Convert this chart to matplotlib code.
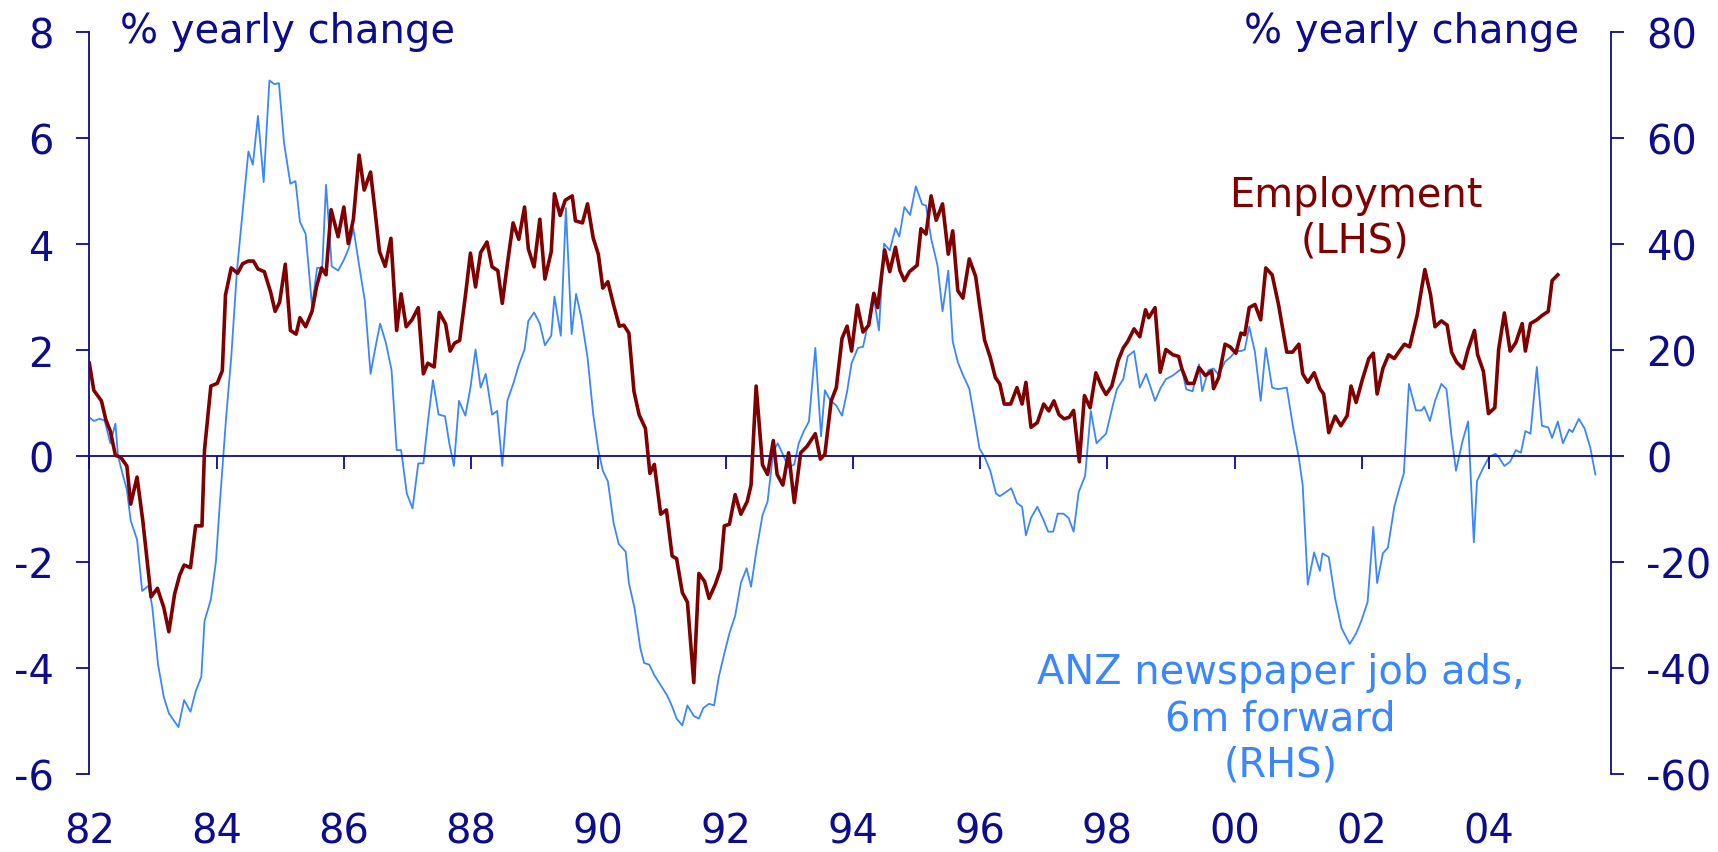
import numpy as np
import matplotlib
matplotlib.use("Agg")
import matplotlib.pyplot as plt

# Colours used in the chart
NAVY = "#0c0c8c"
EMP_COLOR = "#800000"
ADS_COLOR = "#3a86ff"

# Employment, % yearly change (LHS) - years given as yy (+1900)
emp_years = [
    82.00, 82.07, 82.19, 82.26, 82.33, 82.41, 82.49, 82.59, 82.65, 82.75, 82.84, 82.97,
    83.07, 83.17, 83.25, 83.34, 83.42, 83.49, 83.59, 83.67, 83.77, 83.81, 83.91, 84.01,
    84.09, 84.14, 84.23, 84.33, 84.41, 84.50, 84.58, 84.65, 84.75, 84.85, 84.92, 84.99,
    85.08, 85.16, 85.25, 85.31, 85.40, 85.50, 85.57, 85.65, 85.72, 85.80, 85.91, 86.00,
    86.07, 86.15, 86.24, 86.32, 86.42, 86.49, 86.56, 86.65, 86.74, 86.83, 86.90, 86.98,
    87.07, 87.17, 87.25, 87.32, 87.42, 87.50, 87.60, 87.67, 87.74, 87.82, 87.91, 87.99,
    88.07, 88.15, 88.25, 88.33, 88.42, 88.49, 88.57, 88.66, 88.75, 88.84, 88.90, 88.99,
    89.08, 89.16, 89.26, 89.31, 89.40, 89.48, 89.59, 89.64, 89.75, 89.83, 89.92, 90.00,
    90.07, 90.15, 90.24, 90.33, 90.40, 90.48, 90.56, 90.64, 90.74, 90.81, 90.88, 90.98,
    91.07, 91.16, 91.23, 91.32, 91.40, 91.50, 91.58, 91.67, 91.74, 91.84, 91.92, 91.98,
    92.06, 92.15, 92.24, 92.34, 92.40, 92.48, 92.58, 92.66, 92.75, 92.81, 92.90, 92.99,
    93.08, 93.18, 93.28, 93.41, 93.49, 93.56, 93.66, 93.74, 93.83, 93.91, 93.98, 94.07,
    94.16, 94.25, 94.33, 94.39, 94.50, 94.58, 94.67, 94.74, 94.81, 94.89, 95.01, 95.07,
    95.15, 95.23, 95.31, 95.41, 95.50, 95.57, 95.65, 95.73, 95.83, 95.93, 96.00, 96.07,
    96.16, 96.24, 96.31, 96.38, 96.48, 96.58, 96.66, 96.72, 96.80, 96.90, 97.00, 97.08,
    97.16, 97.24, 97.32, 97.40, 97.47, 97.56, 97.64, 97.73, 97.82, 97.91, 97.98, 98.07,
    98.17, 98.25, 98.32, 98.42, 98.51, 98.60, 98.65, 98.75, 98.83, 98.92, 99.03, 99.12,
    99.17, 99.26, 99.36, 99.44, 99.54, 99.64, 99.67, 99.75, 99.85, 99.93, 100.02, 100.10,
    100.16, 100.23, 100.32, 100.41, 100.49, 100.59, 100.69, 100.82, 100.91, 101.01, 101.07, 101.15,
    101.25, 101.34, 101.40, 101.48, 101.58, 101.67, 101.77, 101.83, 101.91, 102.01, 102.11, 102.18,
    102.24, 102.33, 102.42, 102.51, 102.59, 102.67, 102.75, 102.87, 102.99, 103.08, 103.15, 103.25,
    103.34, 103.41, 103.49, 103.59, 103.67, 103.77, 103.82, 103.91, 103.99, 104.09, 104.15, 104.24,
    104.33, 104.42, 104.52, 104.57, 104.65, 104.75, 104.83, 104.93, 104.99, 105.08,
]
emp_values = [
    1.75, 1.24, 1.04, 0.68, 0.47, 0.01, -0.02, -0.19, -0.91, -0.40, -1.22, -2.66,
    -2.50, -2.86, -3.32, -2.61, -2.25, -2.06, -2.11, -1.32, -1.32, 0.11, 1.32, 1.37,
    1.61, 3.04, 3.55, 3.45, 3.63, 3.68, 3.68, 3.53, 3.48, 3.09, 2.73, 2.90,
    3.62, 2.37, 2.30, 2.61, 2.44, 2.73, 3.19, 3.55, 3.42, 4.65, 4.14, 4.70,
    4.01, 4.47, 5.68, 5.02, 5.36, 4.63, 3.86, 3.58, 4.11, 2.37, 3.06, 2.44,
    2.57, 2.80, 1.55, 1.75, 1.68, 2.71, 2.49, 1.98, 2.13, 2.18, 3.02, 3.83,
    3.19, 3.84, 4.04, 3.57, 3.50, 2.88, 3.62, 4.40, 4.09, 4.70, 3.91, 3.57,
    4.47, 3.34, 3.86, 4.95, 4.54, 4.83, 4.91, 4.44, 4.40, 4.76, 4.11, 3.81,
    3.17, 3.29, 2.85, 2.45, 2.47, 2.32, 1.22, 0.78, 0.52, -0.33, -0.16, -1.10,
    -1.02, -1.89, -1.94, -2.58, -2.76, -4.28, -2.22, -2.37, -2.69, -2.42, -2.14, -1.32,
    -1.29, -0.73, -1.10, -0.86, -0.55, 1.32, -0.17, -0.35, 0.29, -0.35, -0.55, 0.06,
    -0.88, 0.06, 0.18, 0.42, -0.06, 0.03, 1.04, 1.29, 2.22, 2.45, 1.98, 2.85,
    2.34, 2.47, 3.07, 2.80, 3.89, 3.48, 3.94, 3.50, 3.31, 3.48, 3.60, 4.29,
    4.19, 4.91, 4.45, 4.76, 3.81, 4.25, 3.12, 2.98, 3.72, 3.39, 2.78, 2.19,
    1.86, 1.48, 1.36, 0.98, 0.98, 1.29, 0.98, 1.39, 0.54, 0.63, 0.98, 0.85,
    1.04, 0.78, 0.70, 0.73, 0.86, -0.11, 1.14, 0.91, 1.57, 1.31, 1.16, 1.32,
    1.80, 2.04, 2.16, 2.40, 2.25, 2.76, 2.61, 2.80, 1.58, 2.01, 1.91, 1.88,
    1.65, 1.37, 1.37, 1.67, 1.52, 1.60, 1.27, 1.48, 2.11, 2.06, 1.94, 2.32,
    2.29, 2.80, 2.86, 2.57, 3.55, 3.42, 2.86, 1.96, 1.96, 2.11, 1.55, 1.39,
    1.57, 1.27, 1.17, 0.44, 0.75, 0.57, 0.76, 1.32, 1.01, 1.45, 1.84, 1.94,
    1.17, 1.65, 1.91, 1.84, 1.98, 2.11, 2.06, 2.66, 3.52, 3.04, 2.44, 2.55,
    2.47, 1.96, 1.77, 1.65, 2.01, 2.37, 1.91, 1.60, 0.80, 0.91, 2.01, 2.70,
    1.98, 2.14, 2.50, 1.98, 2.50, 2.57, 2.65, 2.73, 3.31, 3.42,
]

# ANZ newspaper job ads, 6m forward, % yearly change (RHS)
ads_years = [
    82.00, 82.07, 82.16, 82.24, 82.33, 82.41, 82.45, 82.52, 82.59, 82.65, 82.75, 82.83,
    82.93, 82.99, 83.08, 83.17, 83.25, 83.40, 83.49, 83.59, 83.67, 83.76, 83.81, 83.91,
    83.99, 84.05, 84.15, 84.23, 84.32, 84.41, 84.50, 84.57, 84.65, 84.74, 84.83, 84.91,
    84.98, 85.06, 85.16, 85.24, 85.31, 85.40, 85.50, 85.58, 85.66, 85.72, 85.81, 85.91,
    86.00, 86.08, 86.15, 86.24, 86.33, 86.42, 86.49, 86.57, 86.66, 86.75, 86.83, 86.90,
    86.99, 87.08, 87.17, 87.25, 87.32, 87.40, 87.49, 87.59, 87.66, 87.73, 87.81, 87.91,
    87.99, 88.07, 88.15, 88.23, 88.33, 88.41, 88.49, 88.57, 88.67, 88.75, 88.84, 88.90,
    88.99, 89.08, 89.16, 89.26, 89.31, 89.41, 89.49, 89.58, 89.65, 89.73, 89.83, 89.92,
    90.00, 90.07, 90.15, 90.24, 90.32, 90.43, 90.48, 90.57, 90.66, 90.72, 90.80, 90.88,
    90.98, 91.08, 91.16, 91.23, 91.32, 91.40, 91.50, 91.58, 91.65, 91.74, 91.82, 91.89,
    91.98, 92.06, 92.15, 92.24, 92.33, 92.40, 92.48, 92.58, 92.66, 92.75, 92.82, 92.90,
    92.99, 93.08, 93.15, 93.23, 93.31, 93.41, 93.50, 93.56, 93.64, 93.74, 93.83, 93.91,
    93.98, 94.08, 94.16, 94.24, 94.32, 94.41, 94.49, 94.58, 94.67, 94.73, 94.81, 94.90,
    94.99, 95.09, 95.15, 95.23, 95.33, 95.41, 95.50, 95.57, 95.65, 95.73, 95.83, 95.92,
    95.99, 96.07, 96.16, 96.25, 96.31, 96.41, 96.49, 96.58, 96.66, 96.72, 96.80, 96.90,
    96.99, 97.07, 97.15, 97.22, 97.31, 97.39, 97.47, 97.55, 97.65, 97.74, 97.83, 97.98,
    98.09, 98.15, 98.25, 98.32, 98.42, 98.51, 98.61, 98.75, 98.84, 98.92, 99.03, 99.17,
    99.24, 99.34, 99.44, 99.49, 99.59, 99.67, 99.75, 99.85, 99.93, 100.02, 100.10, 100.16,
    100.23, 100.32, 100.41, 100.49, 100.59, 100.68, 100.82, 100.92, 101.01, 101.07, 101.15, 101.25,
    101.34, 101.38, 101.48, 101.58, 101.68, 101.81, 101.91, 101.99, 102.09, 102.18, 102.24, 102.33,
    102.41, 102.51, 102.59, 102.66, 102.74, 102.85, 102.94, 102.98, 103.07, 103.15, 103.25, 103.33,
    103.41, 103.48, 103.58, 103.67, 103.76, 103.81, 103.91, 104.00, 104.10, 104.15, 104.24, 104.33,
    104.42, 104.50, 104.57, 104.65, 104.75, 104.83, 104.93, 104.99, 105.08, 105.16, 105.26, 105.31,
    105.41, 105.50, 105.59, 105.67,
]
ads_values = [
    7.3, 6.6, 7.0, 6.7, 2.4, 6.1, 0.1, -3.3, -6.4, -12.2, -15.8, -25.5,
    -24.5, -28.6, -39.4, -45.5, -48.6, -51.2, -46.1, -48.3, -44.5, -41.7, -31.2, -27.1,
    -19.9, -9.1, 7.3, 18.6, 35.0, 46.3, 57.5, 55.0, 64.2, 51.7, 70.9, 70.2,
    70.4, 59.1, 51.4, 51.9, 44.2, 41.9, 28.3, 35.5, 35.5, 51.2, 35.8, 35.0,
    37.0, 39.3, 43.0, 36.0, 29.3, 15.5, 20.1, 25.0, 21.4, 16.2, 1.1, 1.1,
    -7.1, -9.9, -1.4, -1.4, 6.3, 14.3, 7.8, 7.5, 2.2, -1.9, 10.4, 7.6,
    12.9, 20.1, 12.9, 15.5, 7.8, 8.5, -1.9, 10.4, 13.9, 17.2, 20.1, 25.5,
    27.1, 25.0, 20.9, 22.7, 30.1, 22.7, 46.8, 23.0, 30.6, 26.3, 18.6, 7.8,
    1.1, -2.8, -4.8, -12.7, -16.6, -18.1, -24.0, -28.8, -36.3, -39.1, -39.4, -41.4,
    -43.3, -45.2, -47.3, -49.6, -50.9, -47.1, -49.1, -49.6, -47.6, -46.8, -47.1, -41.9,
    -37.3, -33.5, -30.2, -24.0, -21.2, -24.7, -18.2, -11.2, -8.6, 0.9, 2.4, 0.3,
    -2.2, -1.6, 2.4, 4.7, 6.5, 20.4, 3.7, 12.4, 10.6, 9.5, 7.6, 12.2,
    17.5, 20.4, 20.6, 25.0, 30.7, 23.7, 40.1, 38.8, 43.0, 41.4, 47.0, 45.5,
    50.9, 47.5, 47.3, 41.1, 36.0, 27.3, 35.0, 21.6, 17.7, 15.3, 12.7, 6.5,
    1.4, -0.2, -2.8, -7.1, -7.6, -6.8, -6.1, -8.9, -9.6, -15.0, -11.7, -9.6,
    -11.9, -14.3, -14.3, -10.9, -10.9, -11.7, -14.3, -6.8, -3.8, 8.5, 2.4, 4.2,
    9.8, 12.6, 14.5, 18.8, 19.8, 12.9, 15.5, 10.4, 12.9, 14.5, 15.2, 16.5,
    12.6, 12.2, 17.3, 12.2, 16.2, 16.5, 15.3, 17.8, 18.6, 19.8, 19.8, 20.1,
    24.4, 19.6, 10.4, 20.4, 12.9, 12.6, 12.9, 5.4, -0.4, -5.5, -24.3, -18.2,
    -21.7, -18.4, -19.1, -26.9, -32.5, -35.5, -33.5, -31.2, -27.6, -13.4, -24.0, -18.4,
    -17.3, -9.6, -6.1, -3.3, 13.6, 8.6, 8.6, 9.3, 6.6, 10.4, 13.6, 12.6,
    3.7, -2.8, 2.7, 6.5, -16.3, -4.7, -2.2, -0.2, 0.4, -0.2, -1.9, -1.1,
    1.1, 0.6, 4.7, 4.2, 16.8, 5.7, 5.4, 3.4, 6.5, 2.4, 5.0, 4.5,
    7.0, 5.2, 1.6, -3.5,
]

tick_years = list(range(1982, 2005, 2))
tick_labels = ["82", "84", "86", "88", "90", "92", "94", "96", "98", "00", "02", "04"]
lhs_ticks = [-6, -4, -2, 0, 2, 4, 6, 8]
rhs_ticks = [-60, -40, -20, 0, 20, 40, 60, 80]


def main():
    plt.rcParams["font.family"] = ["DejaVu Sans"]
    plt.rcParams["axes.unicode_minus"] = False
    fs = 28.8

    fig = plt.figure(figsize=(17.18, 8.53), dpi=100)
    ax = fig.add_axes([0.052, 0.0918, 0.8855, 0.8692])
    ax2 = ax.twinx()

    emp_x = 1900 + np.array(emp_years)
    ads_x = 1900 + np.array(ads_years)

    ax2.plot(ads_x, ads_values, color=ADS_COLOR, lw=1.3, zorder=2)
    ax.plot(emp_x, emp_values, color=EMP_COLOR, lw=2.6, zorder=3)
    ax.set_zorder(ax2.get_zorder() + 1)
    ax.patch.set_visible(False)

    ax.set_xlim(1982, 2005.91)
    ax.set_ylim(-6, 8)
    ax2.set_ylim(-60, 80)

    # spines
    for a in (ax, ax2):
        a.spines["top"].set_visible(False)
        a.spines["bottom"].set_visible(False)
    ax.spines["right"].set_visible(False)
    ax2.spines["left"].set_visible(False)
    ax.spines["left"].set_color(NAVY)
    ax2.spines["right"].set_color(NAVY)
    ax.spines["left"].set_linewidth(1.3)
    ax2.spines["right"].set_linewidth(1.3)

    ax.set_yticks(lhs_ticks)
    ax2.set_yticks(rhs_ticks)
    ax.tick_params(axis="y", colors=NAVY, labelsize=fs, length=9.5, width=1.3, pad=16)
    ax2.tick_params(axis="y", colors=NAVY, labelsize=fs, length=9.5, width=1.3, pad=16)

    # year labels at the bottom, tick marks on the zero line
    ax.set_xticks(tick_years)
    ax.set_xticklabels(tick_labels)
    ax.tick_params(axis="x", colors=NAVY, labelsize=fs, length=0, pad=27)

    zero = ax.secondary_xaxis(6 / 14)
    zero.set_xticks(tick_years)
    zero.tick_params(axis="x", colors=NAVY, length=9.5, width=1.3, labelbottom=False,
                     labeltop=False, direction="out")
    zero.spines["bottom"].set_color(NAVY)
    zero.spines["bottom"].set_linewidth(1.3)
    zero.spines["top"].set_visible(False)

    # axis titles
    fig.text(0.0701, 0.9492, "% yearly change", color=NAVY, fontsize=fs,
             ha="left", va="baseline")
    fig.text(0.9193, 0.9492, "% yearly change", color=NAVY, fontsize=fs,
             ha="right", va="baseline")

    # series labels
    ax.text(2001.9, 4.5, "Employment\n(LHS)", color=EMP_COLOR, fontsize=fs,
            ha="center", va="center", linespacing=1.2)
    ax.text(2000.72, -4.95, "ANZ newspaper job ads,\n6m forward\n(RHS)", color=ADS_COLOR,
            fontsize=fs, ha="center", va="center", linespacing=1.2)

    fig.savefig("out.png", dpi=100)


if __name__ == "__main__":
    main()
